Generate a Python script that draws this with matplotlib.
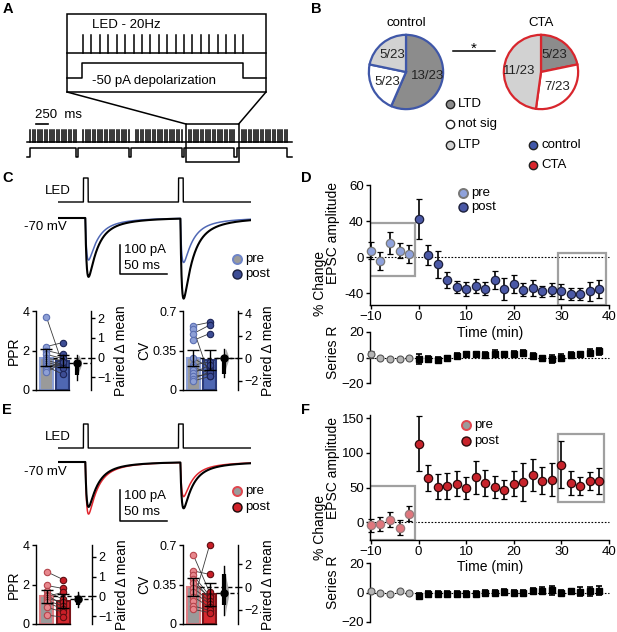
import numpy as np
import matplotlib
matplotlib.use("Agg")
import matplotlib.pyplot as plt
from matplotlib.patches import Rectangle

plt.rcParams['font.family'] = ['Liberation Sans', 'DejaVu Sans']
plt.rcParams['font.size'] = 9
plt.rcParams['axes.linewidth'] = 1.0
for k in ('xtick', 'ytick'):
    plt.rcParams[k + '.major.width'] = 1.0
    plt.rcParams[k + '.major.size'] = 3
    plt.rcParams[k + '.major.pad'] = 1.5
    plt.rcParams[k + '.labelsize'] = 9

W, H = 617, 632

# ---------------- data ----------------
# A: stimulation protocol
n_trains = 5
pulses_per_train = 20
led_rate_hz = 20
train_period_s = 1.1

# B: outcome counts per group (LTD, not sig, LTP)
pie_names = ['LTD', 'not sig', 'LTP']
control_counts = [13, 5, 5]
cta_counts = [5, 7, 11]
n_cells = 23

# C / E: example paired-pulse traces (pA)
led_onsets_ms = [27, 128]
led_width_ms = 5
c_amp_black = [203, 276]
c_amp_col = [145, 152]
e_amp_black = [145, 148]
e_amp_col = [168, 110]

# C / E: per-cell PPR and CV, pre vs post
c_ppr_pre = [3.7, 2.2, 2.0, 1.8, 1.6, 1.5, 1.4, 1.3, 1.2, 1.1, 1.0, 0.9]
c_ppr_post = [1.3, 2.4, 1.8, 1.6, 1.5, 1.3, 1.2, 1.1, 0.8, 1.4, 1.6, 1.4]
c_ppr_err = [0.42, 0.3]
c_cv_pre = [0.57, 0.54, 0.50, 0.44, 0.28, 0.22, 0.20, 0.18, 0.15, 0.12, 0.10, 0.08]
c_cv_post = [0.60, 0.12, 0.575, 0.50, 0.20, 0.25, 0.15, 0.18, 0.22, 0.14, 0.16, 0.12]
c_cv_err = [0.07, 0.09]
e_ppr_pre = [2.65, 1.95, 1.65, 1.45, 1.4, 1.3, 1.2, 1.1, 0.85, 0.45]
e_ppr_post = [2.25, 1.8, 1.25, 1.0, 1.6, 1.1, 0.9, 0.75, 0.6, 0.35]
e_ppr_err = [0.33, 0.35]
e_cv_pre = [0.61, 0.47, 0.43, 0.40, 0.36, 0.32, 0.28, 0.24, 0.20, 0.16, 0.13]
e_cv_post = [0.28, 0.44, 0.25, 0.22, 0.24, 0.20, 0.18, 0.15, 0.70, 0.12, 0.10]
e_cv_err = [0.08, 0.10]

# paired mean difference: delta, 95% CI, inner bar
c_ppr_est = (-0.28, (-1.15, 0.12), (-0.9, -0.3))
c_cv_est = (0.0, (-1.7, 0.8), (-1.4, -0.1))
e_ppr_est = (-0.15, (-0.55, 0.2), (-0.45, -0.1))
e_cv_est = (-0.55, (-2.45, 1.9), (-1.6, 1.2))

# D / F: time course (% change EPSC amplitude) and series resistance
time_min = [-10, -8, -6, -4, -2, 0, 2, 4, 6, 8, 10, 12, 14, 16, 18,
            20, 22, 24, 26, 28, 30, 32, 34, 36, 38]
d_amp = [7.4, -4.4, 16, 7.4, 3, 42, 2.6, -8, -25, -33, -35, -32, -35,
         -25, -35, -30, -36, -34, -38, -36, -38, -41, -41, -38, -35]
d_err = [9, 10, 12, 8, 10, 22, 11, 15, 9, 7, 8, 8, 7, 10, 12, 10, 7, 9,
         6, 7, 8, 7, 7, 11, 10]
d_rs = [2.4, 0, -1, -1, -0.5, -1, -1, -1.7, -0.5, 1.5, 2.4, 2.4, 2, 3,
        2.4, 3, 3.6, 1.5, -0.5, -1.2, 0, 2, 2.6, 3.8, 4.8]
d_rs_err = [3, 1, 0.8, 0.8, 1, 4, 2.5, 2, 1.5, 2, 2, 2, 2, 2.5, 2, 2, 2,
            2, 2, 3, 2.5, 2, 2, 2.5, 3]
f_amp = [-5, -2.4, 3.4, -8, 12, 113.5, 64, 51, 52, 55.5, 49, 65, 57, 51,
         47, 55.5, 58, 67.6, 60, 61, 83, 56.5, 52, 60, 59]
f_err = [10, 10, 11, 11, 11, 40, 19, 18, 19, 18, 16, 24, 19, 16, 14, 18,
         28, 23, 19, 24, 34, 18, 13, 13, 19]
f_rs = [0.7, -0.5, -0.7, 0.7, 0, -2.3, -1.2, -0.7, -0.7, -1.2, -1, -0.7,
        -0.5, 0, 0.5, 0, 0, 1.2, 1.2, 1.6, 0, 0.7, 0.5, 0.7, 1.2]
f_rs_err = [1, 1, 1, 1, 1, 2, 2, 2, 2, 2, 2, 2, 2, 2, 2, 2, 2, 2, 2.5, 3,
            2, 2, 3, 3, 3]

BLUE = '#3f57a8'
RED = '#d8262d'
DARK_GRAY = '#8c8c8c'
LIGHT_GRAY = '#d2d2d2'

fig = plt.figure(figsize=(W / 100, H / 100), dpi=100)


def add_px(x0, y0, x1, y1):
    ax = fig.add_axes([x0 / W, 1 - y1 / H, (x1 - x0) / W, (y1 - y0) / H])
    ax.patch.set_alpha(0)
    return ax


ov = add_px(0, 0, W, H)
ov.set_xlim(0, W)
ov.set_ylim(H, 0)
ov.axis('off')

for lab, x, y in (('A', 3, 9), ('B', 311, 9), ('C', 2, 178),
                  ('D', 301, 178), ('E', 2, 410), ('F', 301, 410)):
    ov.text(x, y, lab, fontsize=10.5, weight='bold', va='center', ha='left')

# ---------------- A: protocol schematic ----------------
lw_a = 1.1
ov.add_patch(Rectangle((67, 14), 199, 78, fill=False, ec='k', lw=lw_a))
ov.plot([67, 266], [53, 53], 'k', lw=lw_a)
in_x0, in_pps = 83, 160 / ((pulses_per_train - 1) / led_rate_hz)
for i in range(pulses_per_train):
    x = in_x0 + i / led_rate_hz * in_pps
    ov.plot([x, x], [35, 53], 'k', lw=lw_a)
x_end = in_x0 + (pulses_per_train - 1) / led_rate_hz * in_pps
ov.plot([67, in_x0 - 1, in_x0 - 1, x_end, x_end, 266],
        [78, 78, 63, 63, 78, 78], 'k', lw=lw_a)
ov.text(92, 25, 'LED - 20Hz', fontsize=9.5, va='center')
ov.text(92, 81, '-50 pA depolarization', fontsize=9.5, va='center')

x0_px, pps = 27, 48.0
dur = (pulses_per_train - 1) / led_rate_hz
starts = [0.07 + k * train_period_s for k in range(n_trains)]
ov.plot([x0_px, 292], [142, 142], 'k', lw=lw_a)
for s in starts:
    for i in range(pulses_per_train):
        x = x0_px + (s + i / led_rate_hz) * pps
        ov.plot([x, x], [130, 142], 'k', lw=1.1)
sx, sy = [x0_px], [157]
for k, s in enumerate(starts):
    up = x0_px + (s - (0.1 if k else 0.0)) * pps
    dn = x0_px + (s + dur) * pps
    sx += [up, up, dn, dn]
    sy += [157, 148, 148, 157]
sx.append(292)
sy.append(157)
ov.plot(sx, sy, 'k', lw=lw_a)
bx0 = x0_px + (starts[3] - 0.06) * pps
bx1 = x0_px + (starts[3] + train_period_s - 0.06) * pps
ov.add_patch(Rectangle((bx0, 124), bx1 - bx0, 38, fill=False, ec='k', lw=lw_a))
ov.plot([67, bx0], [92, 124], 'k', lw=lw_a)
ov.plot([266, bx1], [92, 124], 'k', lw=lw_a)
ov.plot([36, 36 + 0.25 * pps], [123.5, 123.5], 'k', lw=1.2)
ov.text(35, 121, '250  ms', fontsize=9.5, va='bottom')

# ---------------- B: pies ----------------
for counts, edge, cx, name in ((control_counts, BLUE, 406, 'control'),
                               (cta_counts, RED, 541, 'CTA')):
    ax = add_px(cx - 39, 33, cx + 39, 111)
    ax.pie(counts, colors=[DARK_GRAY, 'white', LIGHT_GRAY], startangle=90,
           counterclock=False, wedgeprops=dict(edgecolor=edge, linewidth=1.6),
           autopct=lambda p: f'{round(p * n_cells / 100)}/{n_cells}',
           pctdistance=0.58, textprops=dict(fontsize=9.5, color='#222'))
    ax.set_xlim(-1.05, 1.05)
    ax.set_ylim(-1.05, 1.05)
    ov.text(cx, 23, name, fontsize=9.5, ha='center', va='center')
ov.plot([453, 495], [51, 51], 'k', lw=1.1)
ov.text(474, 49, '*', fontsize=11, ha='center', va='center')
for (lab, fc), y in zip(zip(pie_names, [DARK_GRAY, 'white', LIGHT_GRAY]), [104, 124, 145]):
    ov.plot(450, y, 'o', ms=6, mfc=fc, mec='#222', mew=1.0)
    ov.text(458, y, lab, fontsize=9.5, va='center')
for lab, fc, y in (('control', BLUE, 145), ('CTA', RED, 165)):
    ov.plot(533, y, 'o', ms=6, mfc=fc, mec='#222', mew=1.0)
    ov.text(541, y, lab, fontsize=9.5, va='center')


# ---------------- C / E: traces ----------------
def kernel(s):
    return 0.8 * np.exp(-s / 9) + 0.2 * np.exp(-s / 30) - np.exp(-s / 1.5)


def epsc(t, onsets, amps, lat=2.0):
    y = np.zeros_like(t)
    norm = kernel(np.linspace(0, 200, 4001)).max()
    for on, a in zip(onsets, amps):
        s = t - on - lat
        m = s > 0
        y[m] -= a * kernel(s[m]) / norm
    return y


def trace_panel(led_box, epsc_box, base_px, px_per_pa, amp_black, amp_col, col,
                bar_top_px):
    t = np.linspace(0, 205, 4101)
    axl = add_px(*led_box)
    led = np.zeros_like(t)
    for on in led_onsets_ms:
        led[(t >= on) & (t < on + led_width_ms)] = 1
    axl.plot(t, led, 'k', lw=1.0)
    axl.set_xlim(0, 205)
    axl.set_ylim(-0.125, 1.125)
    axl.axis('off')
    axe = add_px(*epsc_box)
    axe.plot(t, epsc(t, led_onsets_ms, amp_black), color='k', lw=1.5, zorder=3)
    axe.plot(t, epsc(t, led_onsets_ms, amp_col), color=col, lw=1.1, zorder=2)
    top = (base_px - epsc_box[1]) / px_per_pa
    bot = -(epsc_box[3] - base_px) / px_per_pa
    axe.set_xlim(0, 205)
    axe.set_ylim(bot, top)
    axe.axis('off')
    y0 = -(bar_top_px - base_px) / px_per_pa
    axe.plot([66, 66, 116], [y0, y0 - 100, y0 - 100], 'k', lw=1.1)
    axe.text(70, y0 - 18, '100 pA', fontsize=9.5, va='center')
    axe.text(70, y0 - 72, '50 ms', fontsize=9.5, va='center')


trace_panel((58, 175, 251, 205), (58, 208, 251, 305), 218, 0.29,
            c_amp_black, c_amp_col, '#5068b5', 245)
ov.text(71, 191, 'LED', fontsize=9.5, ha='right', va='center')
ov.text(67, 227, '-70 mV', fontsize=9.5, ha='right', va='center')
trace_panel((58, 421, 251, 451), (58, 452, 251, 530), 462, 0.31,
            e_amp_black, e_amp_col, '#e0262e', 490)
ov.text(71, 437, 'LED', fontsize=9.5, ha='right', va='center')
ov.text(67, 472, '-70 mV', fontsize=9.5, ha='right', va='center')

legend_sty = {
    'C': (('#9b9b9b', '#6f85c8'), ('#3d4d96', '#1a1f40')),
    'E': (('#9b9b9b', '#e0474f'), ('#d0222a', '#1a0a0a')),
}
for key, x, ys in (('C', 237, (259, 274)), ('E', 237, (491, 507))):
    (pfc, pec), (qfc, qec) = legend_sty[key]
    ov.plot(x, ys[0], 'o', ms=6.5, mfc=pfc, mec=pec, mew=1.4)
    ov.plot(x, ys[1], 'o', ms=6.5, mfc=qfc, mec=qec, mew=1.0)
    ov.text(x + 8, ys[0], 'pre', fontsize=9.5, va='center')
    ov.text(x + 8, ys[1], 'post', fontsize=9.5, va='center')


# ---------------- C / E: bar + estimation panels ----------------
def bar_panel(box, pre, post, err, ytop, yticks, yticklabels, ylabel, rscale,
              est, rticks, sty):
    delta, ci, inner = est
    ax = add_px(*box)
    pre = np.array(pre)
    post = np.array(post)
    means = [pre.mean(), post.mean()]
    bw = 0.78
    ax.bar([0], [means[0]], width=bw, color='#9a9a9a', edgecolor=sty[0],
           linewidth=1.5, zorder=1)
    ax.bar([1], [means[1]], width=bw, color=sty[1], edgecolor=sty[2],
           linewidth=1.5, zorder=1)
    ax.errorbar([0, 1], means, yerr=err, fmt='none', ecolor='k', elinewidth=1,
                capsize=4, capthick=1, zorder=4)
    for a, b in zip(pre, post):
        ax.plot([0, 1], [a, b], color='#3a3a3a', lw=0.6, zorder=2)
    ax.plot(np.zeros(len(pre)), pre, 'o', ms=4.6, mfc=sty[3], mec=sty[4],
            mew=0.8, zorder=3, clip_on=False)
    ax.plot(np.ones(len(post)), post, 'o', ms=4.6, mfc=sty[5], mec=sty[6],
            mew=0.8, zorder=3, clip_on=False)
    xr = 2.75
    ax.set_xlim(-0.64, xr)
    ax.set_ylim(0, ytop)
    ax.set_yticks(yticks)
    ax.set_yticklabels(yticklabels)
    ax.set_xticks([])
    ax.spines[['top', 'right']].set_visible(False)
    ax.spines['bottom'].set_bounds(-0.64, 1 + bw / 2)
    ax.set_ylabel(ylabel, fontsize=10, labelpad=1)
    ax2 = ax.twinx()
    ax2.patch.set_alpha(0)
    ax2.set_ylim(-means[0] * rscale, (ytop - means[0]) * rscale)
    ax2.spines[['top', 'left', 'bottom']].set_visible(False)
    ax2.set_yticks(rticks)
    ax2.set_ylabel('Paired Δ mean', fontsize=10, labelpad=2)
    ax2.plot([bw / 2, xr], [0, 0], 'k', ls=(0, (3, 2)), lw=1)
    ax2.plot([1 + bw / 2, xr], [delta, delta], 'k', ls=(0, (3, 2)), lw=1)
    ys = np.linspace(ci[0], ci[1], 80)
    sd = (ci[1] - ci[0]) / 5
    ax2.fill_betweenx(ys, 1.95, 1.95 + 0.22 * np.exp(-0.5 * ((ys - delta) / sd) ** 2),
                      color='#a8a8a8', lw=0, zorder=1)
    ax2.plot([1.9, 1.9], ci, 'k', lw=1, zorder=2)
    ax2.plot([1.9, 1.9], inner, 'k', lw=3, solid_capstyle='butt', zorder=2)
    ax2.plot([1.9], [delta], 'o', ms=5, color='k', zorder=3)


c_sty = ('#8da0d5', '#4f67b3', '#2b3a78', '#8d9fd6', '#5b6fb2', '#3d4d95', '#1c2456')
e_sty = ('#e07d83', '#d52a30', '#7a1419', '#e8878d', '#b5454c', '#c81e27', '#5c0d11')
bar_panel((36, 311, 91, 390), c_ppr_pre, c_ppr_post, c_ppr_err, 4, [0, 2, 4],
          ['0', '2', '4'], 'PPR', 1, c_ppr_est, [-1, 0, 1, 2], c_sty)
bar_panel((183, 311, 238, 390), c_cv_pre, c_cv_post, c_cv_err, 0.7, [0, 0.35, 0.7],
          ['0', '0.35', '0.7'], 'CV', 10, c_cv_est, [-2, 0, 2, 4], c_sty)
bar_panel((36, 545, 92, 624), e_ppr_pre, e_ppr_post, e_ppr_err, 4, [0, 2, 4],
          ['0', '2', '4'], 'PPR', 1, e_ppr_est, [-1, 0, 1, 2], e_sty)
bar_panel((183, 545, 238, 624), e_cv_pre, e_cv_post, e_cv_err, 0.7, [0, 0.35, 0.7],
          ['0', '0.35', '0.7'], 'CV', 10, e_cv_est, [-2, 0, 2], e_sty)


# ---------------- D / F: time courses ----------------
def course_panel(box, rbox, amp, err, rs, rs_err, ylim, yticks, yticklabels,
                 sty, boxes):
    t = np.array(time_min)
    amp, err = np.array(amp), np.array(err)
    rs, rs_err = np.array(rs), np.array(rs_err)
    pre = t < 0
    post = ~pre
    ax = add_px(*box)
    ax.plot([-10, 40], [0, 0], color='k', ls=(0, (1.5, 1.5)), lw=0.8, zorder=0)
    for x0, x1, y0, y1 in boxes:
        ax.add_patch(Rectangle((x0, y0), x1 - x0, y1 - y0, fill=False,
                               ec='#a0a0a0', lw=1.6, zorder=1))
    for m, fc, ec in ((pre, sty[0], sty[1]), (post, sty[2], sty[3])):
        ax.errorbar(t[m], amp[m], yerr=err[m], fmt='o', ms=6, mfc=fc, mec=ec,
                    mew=0.9, ecolor='k', elinewidth=1.2, capsize=2.5,
                    capthick=1.2, zorder=3)
    ax.set_xlim(-10.2, 40)
    ax.set_ylim(*ylim)
    ax.set_xticks(range(-10, 41, 10))
    ax.set_yticks(yticks)
    ax.set_yticklabels(yticklabels)
    ax.spines[['top', 'right']].set_visible(False)
    ax.tick_params(labelsize=9.5)
    for art in ax.lines + ax.collections:
        art.set_clip_on(False)

    axr = add_px(*rbox)
    axr.plot([-10, 40], [0, 0], color='k', ls=(0, (1.5, 1.5)), lw=0.8, zorder=0)
    axr.errorbar(t[pre], rs[pre], yerr=rs_err[pre], fmt='o', ms=5, mfc='#b5b5b5',
                 mec='#555555', mew=0.8, ecolor='#333', elinewidth=1.1,
                 capsize=2, zorder=3)
    axr.errorbar(t[post], rs[post], yerr=rs_err[post], fmt='s', ms=5, color='k',
                 elinewidth=1.2, capsize=2, capthick=1.2, zorder=3)
    axr.set_xlim(-10.2, 40)
    axr.set_ylim(-20, 20)
    axr.set_yticks([-20, 0, 20])
    axr.set_xticks([])
    axr.spines[['top', 'right', 'bottom']].set_visible(False)
    axr.tick_params(labelsize=9.5)
    for art in axr.lines + axr.collections:
        art.set_clip_on(False)


course_panel((370, 185, 609, 305), (370, 332, 609, 383), d_amp, d_err, d_rs,
             d_rs_err, (-53, 80), [80, 40, 0, -40], ['60', '40', '0', '-40'],
             ('#8fa2dc', '#7a7a7a', '#4a58a6', '#1c1f3a'),
             [(-10.2, -0.8, -21, 38), (29.3, 39.3, -53, 4.8)])
course_panel((370, 415, 609, 540), (370, 563, 609, 622), f_amp, f_err, f_rs,
             f_rs_err, (-26, 155), [150, 100, 50, 0], ['150', '100', '50', '0'],
             ('#e0767d', '#9a7a7c', '#c8232b', '#2d0a0b'),
             [(-10.2, -0.8, -26, 52), (29.3, 39.0, 29, 128)])

for yc, ye, ys, yt in ((283, 233, 352, 333), (528, 468, 582, 567)):
    ov.text(320, yc, '% Change', fontsize=10, rotation=90, ha='center', va='center')
    ov.text(333, ye, 'EPSC amplitude', fontsize=10, rotation=90, ha='center', va='center')
    ov.text(333, ys, 'Series R', fontsize=10, rotation=90, ha='center', va='center')
    ov.text(490, yt, 'Time (min)', fontsize=10, ha='center', va='center')

for x, ys, (pfc, pec), (qfc, qec) in (
        (463, (193, 207), ('#8fa2dc', '#777777'), ('#4a58a6', '#1c1f3a')),
        (466, (425, 441), ('#9b9b9b', '#e0474f'), ('#c8232b', '#2d0a0b'))):
    ov.plot(x, ys[0], 'o', ms=6.5, mfc=pfc, mec=pec, mew=1.4)
    ov.plot(x, ys[1], 'o', ms=6.5, mfc=qfc, mec=qec, mew=1.0)
    ov.text(x + 8, ys[0], 'pre', fontsize=9.5, va='center')
    ov.text(x + 8, ys[1], 'post', fontsize=9.5, va='center')

fig.savefig('out.png', dpi=100)
